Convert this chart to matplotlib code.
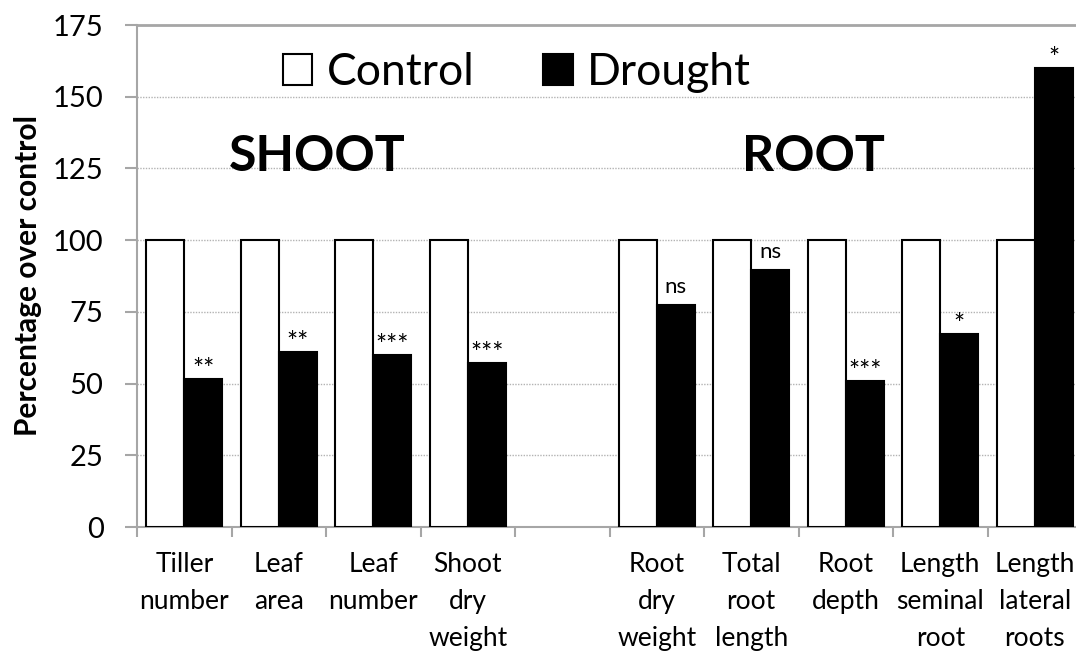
import matplotlib.pyplot as plt
from matplotlib.patches import Patch
import numpy as np

plt.rcParams['font.family'] = ['Lato', 'DejaVu Sans']

categories = ['Tiller\nnumber', 'Leaf\narea', 'Leaf\nnumber', 'Shoot\ndry\nweight', '',
              'Root\ndry\nweight', 'Total\nroot\nlength', 'Root\ndepth',
              'Length\nseminal\nroot', 'Length\nlateral\nroots']
control = [100, 100, 100, 100, np.nan, 100, 100, 100, 100, 100]
drought = [51.5, 60.9, 60.0, 57.1, np.nan, 77.4, 89.6, 50.8, 67.3, 160.0]
signif = ['**', '**', '***', '***', '', 'ns', 'ns', '***', '*', '*']

axis_gray = '#a6a6a6'
width = 0.4
x = np.arange(len(categories))

fig = plt.figure(figsize=(10.76, 6.51), dpi=100)
# axes runs slightly past the right edge of the picture, like the original
ax = fig.add_axes([137/1076, 1 - 527/651, 945/1076, (527 - 25)/651])

ax.bar(x - width/2, control, width, color='white', edgecolor='black', linewidth=1.5, zorder=3)
ax.bar(x + width/2, drought, width, color='black', edgecolor='black', linewidth=1.5, zorder=3)

for xi, val, s in zip(x, drought, signif):
    if s == '':
        continue
    if s == 'ns':
        ax.text(xi + width/2, val + 4.2, s, ha='center', va='baseline', fontsize=16, zorder=4)
    else:
        ax.text(xi + width/2, val + 0.3, s, ha='center', va='baseline', fontsize=19, zorder=4)

ax.set_xlim(-0.5, 9.5)
ax.set_ylim(0, 175)
ax.set_yticks([0, 25, 50, 75, 100, 125, 150, 175])
ax.set_xticks(x)
ax.set_xticklabels(categories, fontsize=19, linespacing=1.6)
ax.set_xticks(np.arange(-0.5, 10, 1), minor=True)
ax.tick_params(axis='x', which='major', length=0, pad=18)
ax.tick_params(axis='x', which='minor', length=7, width=1.5, color=axis_gray, direction='out')
ax.tick_params(axis='y', length=9, width=1.5, color=axis_gray, labelsize=21, pad=15)

ax.set_ylabel('Percentage over control', fontsize=21.5, fontweight='bold', labelpad=8)

for y in [25, 50, 75, 100, 125, 150]:
    ax.axhline(y, color='#b3b3b3', linestyle=(0, (1, 1)), linewidth=1, zorder=1)
ax.axhline(175, color=axis_gray, linewidth=2, zorder=1, clip_on=False)

for side in ['top', 'right']:
    ax.spines[side].set_visible(False)
for side in ['left', 'bottom']:
    ax.spines[side].set_color(axis_gray)
    ax.spines[side].set_linewidth(1.5)

ax.text(1.405, 129, 'SHOOT', ha='center', va='center', fontsize=36, fontweight='bold')
ax.text(6.66, 129, 'ROOT', ha='center', va='center', fontsize=36, fontweight='bold')

handles = [Patch(facecolor='white', edgecolor='black', linewidth=1.5, label='Control'),
           Patch(facecolor='black', edgecolor='black', linewidth=1.5, label='Drought')]
ax.legend(handles=handles, loc='center', bbox_to_anchor=(0.402, 0.905), ncol=2, frameon=False,
          fontsize=32, handlelength=0.67, handleheight=0.67, handletextpad=0.32, columnspacing=1.55)

fig.savefig('out.png', dpi=100)
